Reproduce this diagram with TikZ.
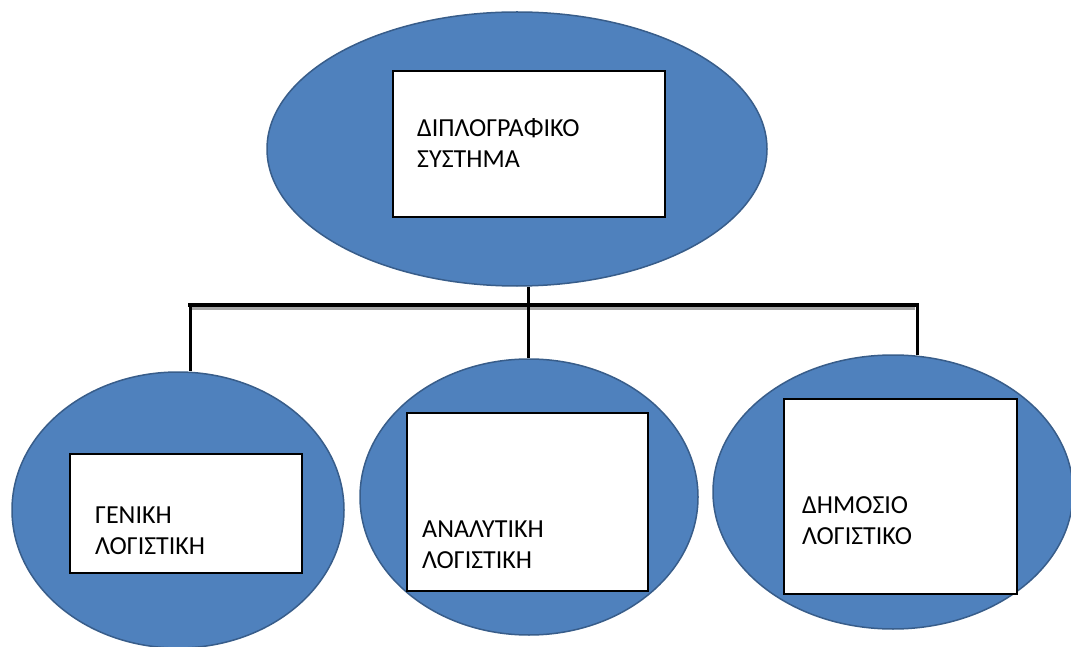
\documentclass[tikz,border=0pt]{standalone}
\usepackage{fontspec}
\setmainfont{Carlito}
\usetikzlibrary{shapes.geometric}
\definecolor{ellfill}{RGB}{79,129,189}
\definecolor{elldraw}{RGB}{56,93,138}
\tikzset{
  oval/.style={ellipse, fill=ellfill, draw=elldraw, line width=1.5pt, inner sep=0pt},
  box/.style={rectangle, fill=white, draw=black, line width=1.2pt, inner sep=0pt},
  lbl/.style={anchor=base west, inner sep=0pt, align=left, font=\fontsize{26}{31}\selectfont},
  conn/.style={line width=3pt, black},
  shadowline/.style={line width=3pt, black!35}
}
\begin{document}
\begin{tikzpicture}[x=1pt, y=-1pt]
\useasboundingbox (0,0) rectangle (1071,647);
% ellipses
\node[oval, minimum width=500pt, minimum height=274pt] (top) at (517,149) {};
\node[oval, minimum width=332pt, minimum height=276pt] (e1) at (178,510) {};
\node[oval, minimum width=338pt, minimum height=276pt] (e2) at (529,497) {};
\node[oval, minimum width=360pt, minimum height=274pt] (e3) at (893,492) {};
% bar coordinates
\coordinate (barL) at (190,305);
\coordinate (barM) at (528,305);
\coordinate (barR) at (917,305);
\coordinate (shL) at (192,308);
\coordinate (shR) at (915,308);
\draw[shadowline] (shL) -- (shR);
\draw[conn, line width=4pt, line cap=rect] (barL) -- (barR);
\draw[conn] (top.south -| barM) -- (barM);
\draw[conn] (barM) -- (e2.north -| barM);
\draw[conn] (barL) -- (barL |- e1.north);
\draw[conn] (barR) -- ([yshift=-1pt]barR |- e3.north);
% boxes
\node[box, minimum width=272pt, minimum height=146pt] (b0) at (529,144) {};
\node[box, minimum width=232pt, minimum height=119pt] (b1) at (186,513.5) {};
\node[box, minimum width=241pt, minimum height=178pt] (b2) at (527.5,502) {};
\node[box, minimum width=233pt, minimum height=195pt] (b3) at (900.5,496.5) {};
% labels (anchor is the baseline of the second line)
\node[lbl] (t0) at (417,168) {ΔΙΠΛΟΓΡΑΦΙΚΟ\\ΣΥΣΤΗΜΑ};
\node[lbl] (t1) at (95,554) {ΓΕΝΙΚΗ\\ΛΟΓΙΣΤΙΚΗ};
\node[lbl] (t2) at (422,568) {ΑΝΑΛΥΤΙΚΗ\\ΛΟΓΙΣΤΙΚΗ};
\node[lbl] (t3) at (802,544) {ΔΗΜΟΣΙΟ\\ΛΟΓΙΣΤΙΚΟ};
\end{tikzpicture}
\end{document}
